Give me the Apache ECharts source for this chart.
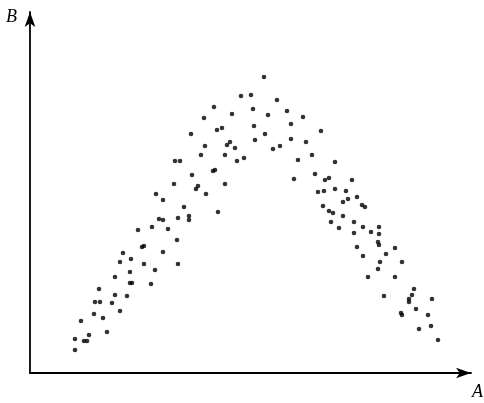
<!DOCTYPE html>
<html>
<head>
<meta charset="utf-8">
<script src="https://cdn.jsdelivr.net/npm/echarts@6/dist/echarts.min.js"></script>
<style>html,body{margin:0;padding:0;background:#fff}#c{width:484px;height:403px}</style>
</head>
<body>
<div id="c"></div>
<script>
// A values (horizontal) and B values (vertical), arbitrary units
const aVals = [
211,221,184,202,223,174,187,192,161,224,225,197,200,205,175,171,195,207,214,145,150,
234,247,257,238,273,261,235,291,261,276,243,250,282,268,305,
126,129,122,108,112,114,93,101,90,114,
183,185,162,144,195,166,168,176,133,154,188,133,148,159,159,138,147,133,148,
264,285,295,299,322,288,294,305,316,313,318,327,293,299,303,313,324,301,309,324,327,
332,335,333,349,341,349,348,349,365,333,356,350,372,
125,100,85,100,102,121,69,85,97,65,70,82,90,64,73,51,77,59,45,54,57,45,
348,338,365,384,354,382,379,379,402,386,371,372,398,401,389,408
];
const bVals = [
277,278,266,259,264,255,243,245,239,247,233,228,231,225,227,218,218,212,215,212,212,
296,273,262,258,256,249,239,242,234,231,224,227,218,213,211,
179,154,146,143,126,127,120,114,111,109,
202,203,198,189,189,184,187,179,173,166,161,153,155,157,153,144,133,121,109,
194,199,193,195,193,181,182,184,182,171,174,176,167,162,160,157,151,151,145,140,126,
168,166,146,146,141,139,131,128,125,117,119,111,111,
103,101,96,90,90,89,84,78,77,71,71,70,62,59,55,52,41,38,34,32,32,23,
104,96,96,84,77,78,74,71,74,64,60,58,58,47,44,33
];
const pts = aVals.map((a, i) => [a, bVals[i]]);
const chart = echarts.init(document.getElementById('c'));
const axisCommon = {
  type: 'value',
  axisLine: { show: true, lineStyle: { color: '#000', width: 1.8 }, symbol: ['none', 'arrow'], symbolSize: [8, 15], symbolOffset: [0, 0] },
  axisTick: { show: false },
  axisLabel: { show: false },
  splitLine: { show: false }
};
chart.setOption({
  animation: false,
  grid: { left: 30, top: 12, width: 441, height: 361 },
  xAxis: Object.assign({}, axisCommon, { min: 0, max: 441 }),
  yAxis: Object.assign({}, axisCommon, { min: 0, max: 361 }),
  series: [{
    type: 'scatter',
    data: pts,
    symbol: 'circle',
    symbolSize: 4.6,
    itemStyle: { color: '#000' }
  }],
  graphic: [
    { type: 'text', left: 6, top: 8, style: { text: 'B', font: 'italic 18px "Liberation Serif"', fill: '#000' } },
    { type: 'text', left: 472, top: 383, style: { text: 'A', font: 'italic 18px "Liberation Serif"', fill: '#000' } }
  ]
});
</script>
</body>
</html>
